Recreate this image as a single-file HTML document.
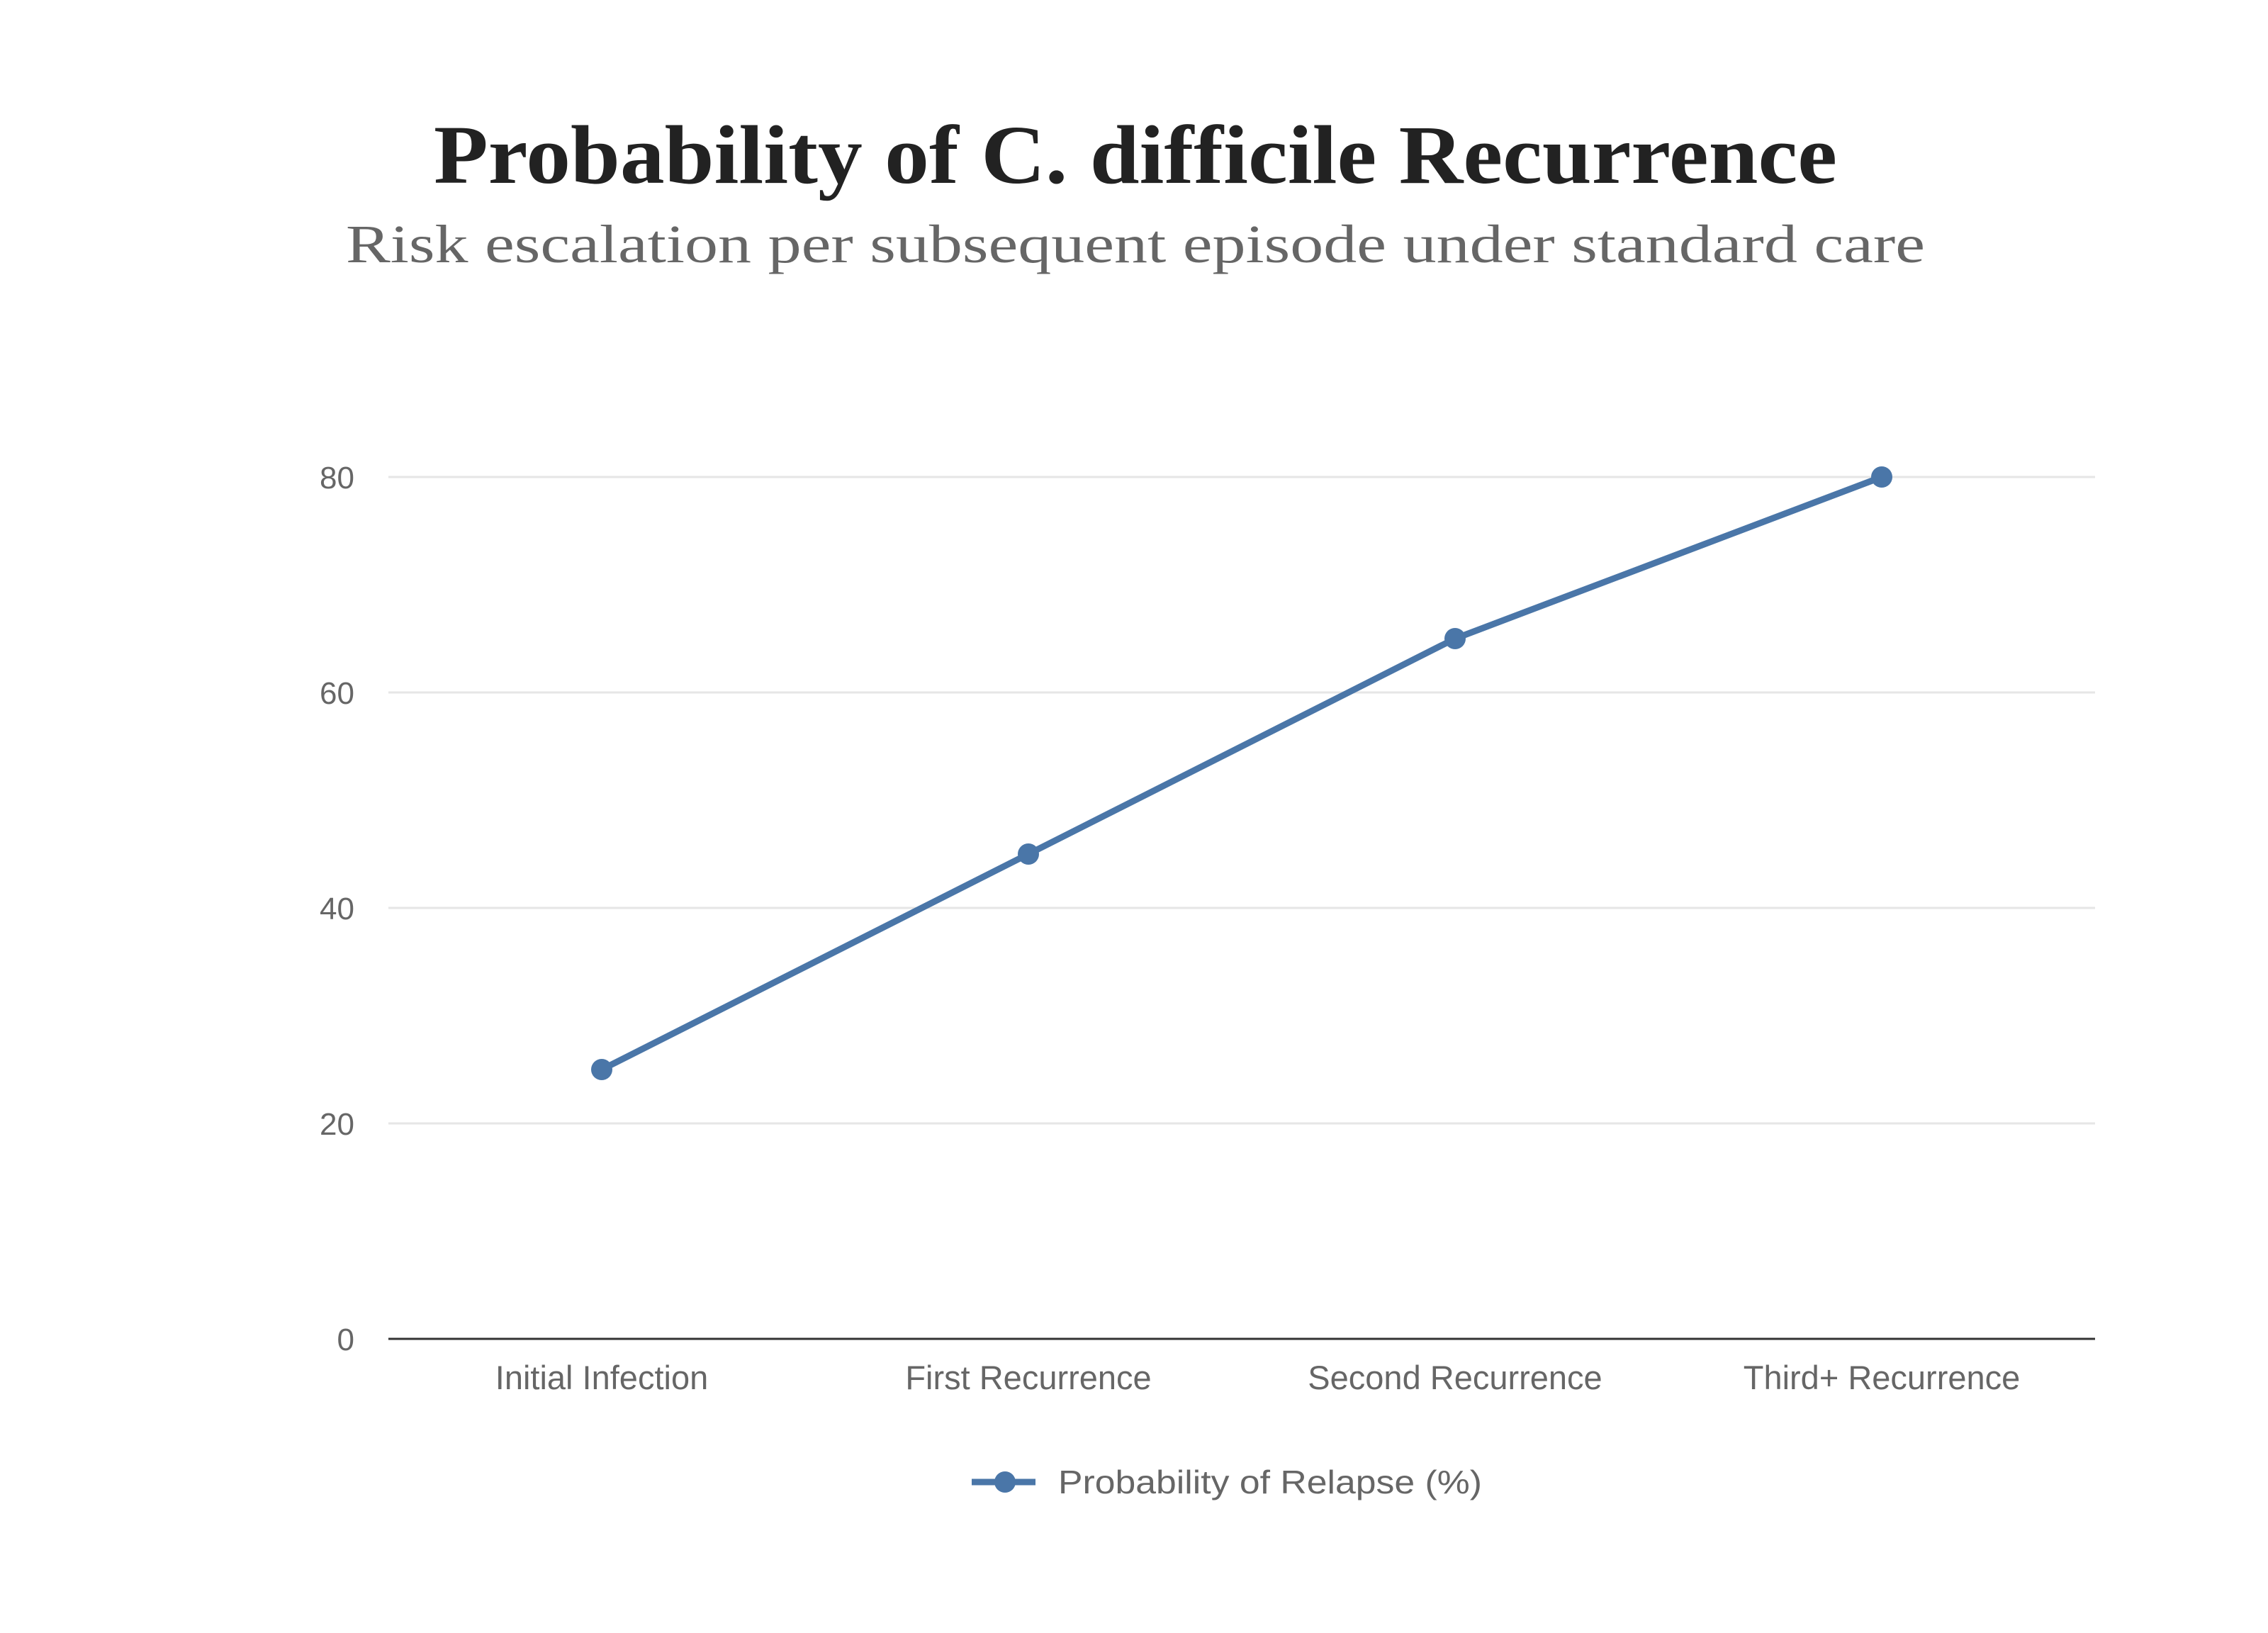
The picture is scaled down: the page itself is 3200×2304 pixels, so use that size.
<!DOCTYPE html>
<html><head><meta charset="utf-8"><style>html,body{margin:0;padding:0;background:#fff}svg{display:block}</style></head>
<body>
<svg id="chart" width="3200" height="2304" viewBox="0 0 3200 2304" xmlns="http://www.w3.org/2000/svg">
<text x="1602" y="258" text-anchor="middle" font-family="'Liberation Serif',serif" font-weight="bold" font-size="118" fill="#222" textLength="1980" lengthAdjust="spacingAndGlyphs">Probability of C. difficile Recurrence</text>
<text x="1602" y="370" text-anchor="middle" font-family="'Liberation Serif',serif" font-size="76" fill="#666" textLength="2228" lengthAdjust="spacingAndGlyphs">Risk escalation per subsequent episode under standard care</text>
<g id="grid"></g><g id="yticks"></g><g id="xticks"></g><g id="series"></g>
<g>
<line x1="1371" y1="2091" x2="1461" y2="2091" stroke="#4a76a8" stroke-width="9"/>
<circle cx="1418" cy="2091" r="15" fill="#4a76a8"/>
<text x="1493" y="2107" font-family="'Liberation Sans',sans-serif" font-size="46" fill="#666" textLength="598" lengthAdjust="spacingAndGlyphs">Probability of Relapse (%)</text>
</g>
</svg>
<script>
const categories = ["Initial Infection","First Recurrence","Second Recurrence","Third+ Recurrence"];
const values = [25,45,65,80];
const yTicks = [0,20,40,60,80];
const NS="http://www.w3.org/2000/svg";
const L=548,R=2956,Y0=1889,Y80=673;
const band=(R-L)/categories.length;
const xs=i=>L+band*(i+0.5);
const ys=v=>Y0-(v/80)*(Y0-Y80);
function mk(t,a,p){const e=document.createElementNS(NS,t);for(const k in a)e.setAttribute(k,a[k]);p.appendChild(e);return e;}
const grid=document.getElementById('grid'),yt=document.getElementById('yticks'),xt=document.getElementById('xticks'),se=document.getElementById('series');
yTicks.forEach(v=>{
  const y=ys(v);
  const ln=mk('line',{x1:L,x2:R,y1:y,y2:y,stroke:v===0?'#333':'#e6e6e6','stroke-width':3},grid);
  
  
  const t=mk('text',{x:500,y:y+16,'text-anchor':'end','font-family':"'Liberation Sans',sans-serif",'font-size':44,fill:'#666'},yt);
  t.textContent=v;
  
  
});
categories.forEach((c,i)=>{
  const t=mk('text',{x:xs(i),y:1960,'text-anchor':'middle','font-family':"'Liberation Sans',sans-serif",'font-size':47,fill:'#666'},xt);
  t.textContent=c;
  
  
});
const pl=mk('polyline',{points:values.map((v,i)=>xs(i)+','+ys(v)).join(' '),fill:'none',stroke:'#4a76a8','stroke-width':9,'stroke-linejoin':'round'},se);


values.forEach((v,i)=>{
  const c=mk('circle',{cx:xs(i),cy:ys(v),r:15,fill:'#4a76a8'},se);
  
  
});
</script>
</body></html>
